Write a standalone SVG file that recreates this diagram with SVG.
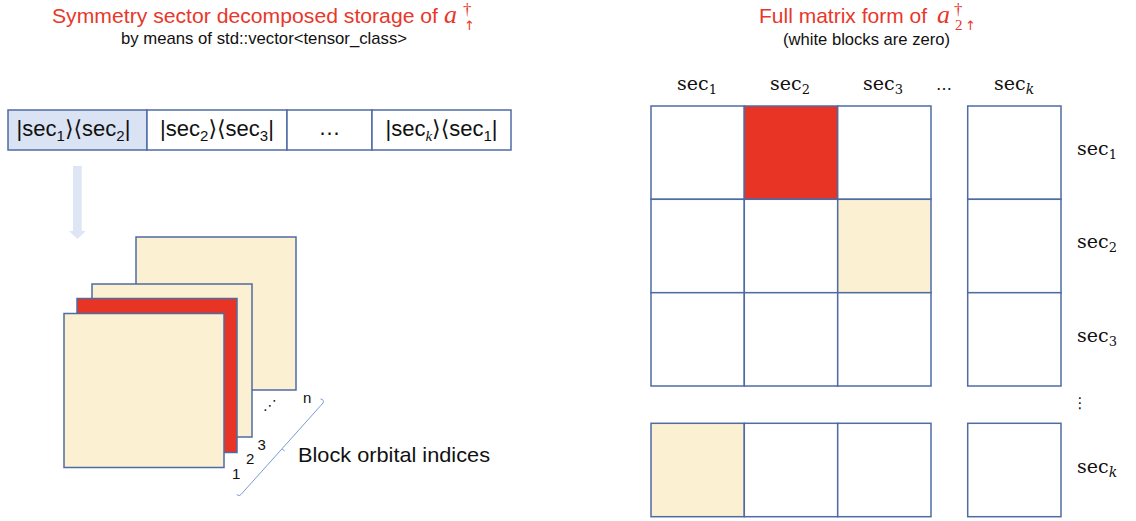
<svg xmlns="http://www.w3.org/2000/svg" width="1136" height="521" viewBox="0 0 1136 521">
  <style>
    .title { font-family: "Liberation Sans", Arial, sans-serif; font-size: 21px; fill: #E8372B; }
    .math { font-family: "Liberation Serif", "DejaVu Serif", serif; fill: #E8372B; }
    .arrowglyph { font-family: "DejaVu Sans", sans-serif; font-size: 13px; }
    .sub { font-family: "Liberation Sans", Arial, sans-serif; font-size: 17px; fill: #111; }
    .cell { fill: #FFFFFF; stroke: #4F6BA3; stroke-width: 1.5; }
    .bar { font-family: "Liberation Sans", "DejaVu Sans", sans-serif; font-size: 22px; fill: #111; text-anchor: middle; }
    .lbl { font-family: "DejaVu Serif", "Liberation Serif", serif; font-size: 19px; fill: #111; }
    .num { font-family: "Liberation Sans", Arial, sans-serif; font-size: 15px; fill: #111; }
    .note { font-family: "Liberation Sans", Arial, sans-serif; font-size: 21px; fill: #111; }
  </style>

  <!-- left heading -->
  <g id="left-title">
    <text class="title" x="52" y="23" textLength="386" lengthAdjust="spacingAndGlyphs">Symmetry sector decomposed storage of</text>
    <text class="math" x="444" y="23" font-size="26"><tspan font-style="italic">a</tspan><tspan x="463" y="15" font-size="17">†</tspan><tspan class="arrowglyph" x="464" y="30">↑</tspan></text>
    <text class="sub" x="121" y="44" textLength="286" lengthAdjust="spacingAndGlyphs">by means of std::vector&lt;tensor_class&gt;</text>
  </g>

  <!-- right heading -->
  <g id="right-title">
    <text class="title" x="759" y="23" textLength="168" lengthAdjust="spacingAndGlyphs">Full matrix form of</text>
    <text class="math" x="937" y="23" font-size="26"><tspan font-style="italic">a</tspan><tspan x="954" y="15" font-size="17">†</tspan><tspan x="955" y="30" font-size="15">2</tspan><tspan class="arrowglyph" x="965" y="30">↑</tspan></text>
    <text class="sub" x="783" y="44.5" textLength="167" lengthAdjust="spacingAndGlyphs">(white blocks are zero)</text>
  </g>

  <!-- vector storage bar -->
  <g id="storage-bar">
    <rect class="cell" x="8" y="110" width="139" height="40" style="fill:#DAE3F3"/>
    <rect class="cell" x="147" y="110" width="140" height="40"/>
    <rect class="cell" x="287" y="110" width="85" height="40"/>
    <rect class="cell" x="372" y="110" width="139" height="40"/>
    <text class="bar" x="73.5" y="136">|sec<tspan font-size="15" dy="5">1</tspan><tspan dy="-5">⟩⟨sec</tspan><tspan font-size="15" dy="5">2</tspan><tspan dy="-5">|</tspan></text>
    <text class="bar" x="217" y="136">|sec<tspan font-size="15" dy="5">2</tspan><tspan dy="-5">⟩⟨sec</tspan><tspan font-size="15" dy="5">3</tspan><tspan dy="-5">|</tspan></text>
    <text class="bar" x="329.5" y="135" font-size="16">…</text>
    <text class="bar" x="441.5" y="136">|sec<tspan font-size="15" dy="5" font-style="italic" font-family="Liberation Serif, serif">k</tspan><tspan dy="-5">⟩⟨sec</tspan><tspan font-size="15" dy="5">1</tspan><tspan dy="-5">|</tspan></text>
  </g>

  <!-- connectors -->
  <g id="connectors">
    <path id="down-arrow" d="M73 166 H81.7 V231 H85.7 L77.4 239 L69 231 H73 Z" fill="#DEE5F4"/>
    <path id="index-brace" d="M320.5 399 Q324.5 399.5 323 403 L282 448.8 L284.6 451 M282 448.8 L241 494.5 Q239.5 496.5 236.8 494.7" fill="none" stroke="#7A9AD8" stroke-width="1"/>
  </g>

  <!-- stack of sector blocks -->
  <g id="block-n">
    <rect class="cell" x="136" y="237" width="160" height="153" style="fill:#FBF0D2"/>
  </g>
  <g id="block-3">
    <rect class="cell" x="92" y="284" width="160" height="153" style="fill:#FBF0D2"/>
  </g>
  <g id="block-2">
    <rect class="cell" x="77" y="298.5" width="160" height="154" style="fill:#E83425"/>
  </g>
  <g id="block-1">
    <rect class="cell" x="64" y="313.5" width="160" height="154" style="fill:#FBF0D2"/>
  </g>

  <g id="block-labels">
    <text class="num" x="232" y="479">1</text>
    <text class="num" x="246" y="464">2</text>
    <text class="num" x="257.5" y="449.5">3</text>
    <text x="263" y="410" font-size="14" font-family="DejaVu Sans, sans-serif" fill="#111">⋰</text>
    <text class="num" x="303" y="402.5">n</text>
    <text class="note" x="298" y="462" textLength="192" lengthAdjust="spacingAndGlyphs">Block orbital indices</text>
  </g>

  <!-- full matrix: column headers -->
  <g id="col-headers">
    <text class="lbl" x="677" y="90">sec<tspan font-size="13" dy="4">1</tspan></text>
    <text class="lbl" x="770" y="90">sec<tspan font-size="13" dy="4">2</tspan></text>
    <text class="lbl" x="863" y="90">sec<tspan font-size="13" dy="4">3</tspan></text>
    <text x="944" y="90" font-size="16" font-family="DejaVu Sans, sans-serif" fill="#111" text-anchor="middle">…</text>
    <text class="lbl" x="994" y="90">sec<tspan font-size="14" dy="4" font-style="italic">k</tspan></text>
  </g>

  <!-- full matrix: row headers -->
  <g id="row-headers">
    <text class="lbl" x="1077" y="155">sec<tspan font-size="13" dy="4">1</tspan></text>
    <text class="lbl" x="1077" y="248">sec<tspan font-size="13" dy="4">2</tspan></text>
    <text class="lbl" x="1077" y="341.5">sec<tspan font-size="13" dy="4">3</tspan></text>
    <text x="1080" y="408" font-size="15" font-family="DejaVu Sans, sans-serif" fill="#111" text-anchor="middle">⋮</text>
    <text class="lbl" x="1077" y="473">sec<tspan font-size="14" dy="4" font-style="italic">k</tspan></text>
  </g>

  <!-- full matrix: blocks -->
  <g id="matrix">
    <g id="row-1">
      <rect class="cell" x="651" y="106" width="93.3" height="93.3"/>
      <rect class="cell" x="744.3" y="106" width="93.4" height="93.3" style="fill:#E83425"/>
      <rect class="cell" x="837.7" y="106" width="93.3" height="93.3"/>
      <rect class="cell" x="967.7" y="106" width="93.3" height="93.3"/>
    </g>
    <g id="row-2">
      <rect class="cell" x="651" y="199.3" width="93.3" height="93.4"/>
      <rect class="cell" x="744.3" y="199.3" width="93.4" height="93.4"/>
      <rect class="cell" x="837.7" y="199.3" width="93.3" height="93.4" style="fill:#FBF0D2"/>
      <rect class="cell" x="967.7" y="199.3" width="93.3" height="93.4"/>
    </g>
    <g id="row-3">
      <rect class="cell" x="651" y="292.7" width="93.3" height="93.3"/>
      <rect class="cell" x="744.3" y="292.7" width="93.4" height="93.3"/>
      <rect class="cell" x="837.7" y="292.7" width="93.3" height="93.3"/>
      <rect class="cell" x="967.7" y="292.7" width="93.3" height="93.3"/>
    </g>
    <g id="row-k">
      <rect class="cell" x="651" y="423.3" width="93.3" height="93.4" style="fill:#FBF0D2"/>
      <rect class="cell" x="744.3" y="423.3" width="93.4" height="93.4"/>
      <rect class="cell" x="837.7" y="423.3" width="93.3" height="93.4"/>
      <rect class="cell" x="967.7" y="423.3" width="93.3" height="93.4"/>
    </g>
  </g>
</svg>
